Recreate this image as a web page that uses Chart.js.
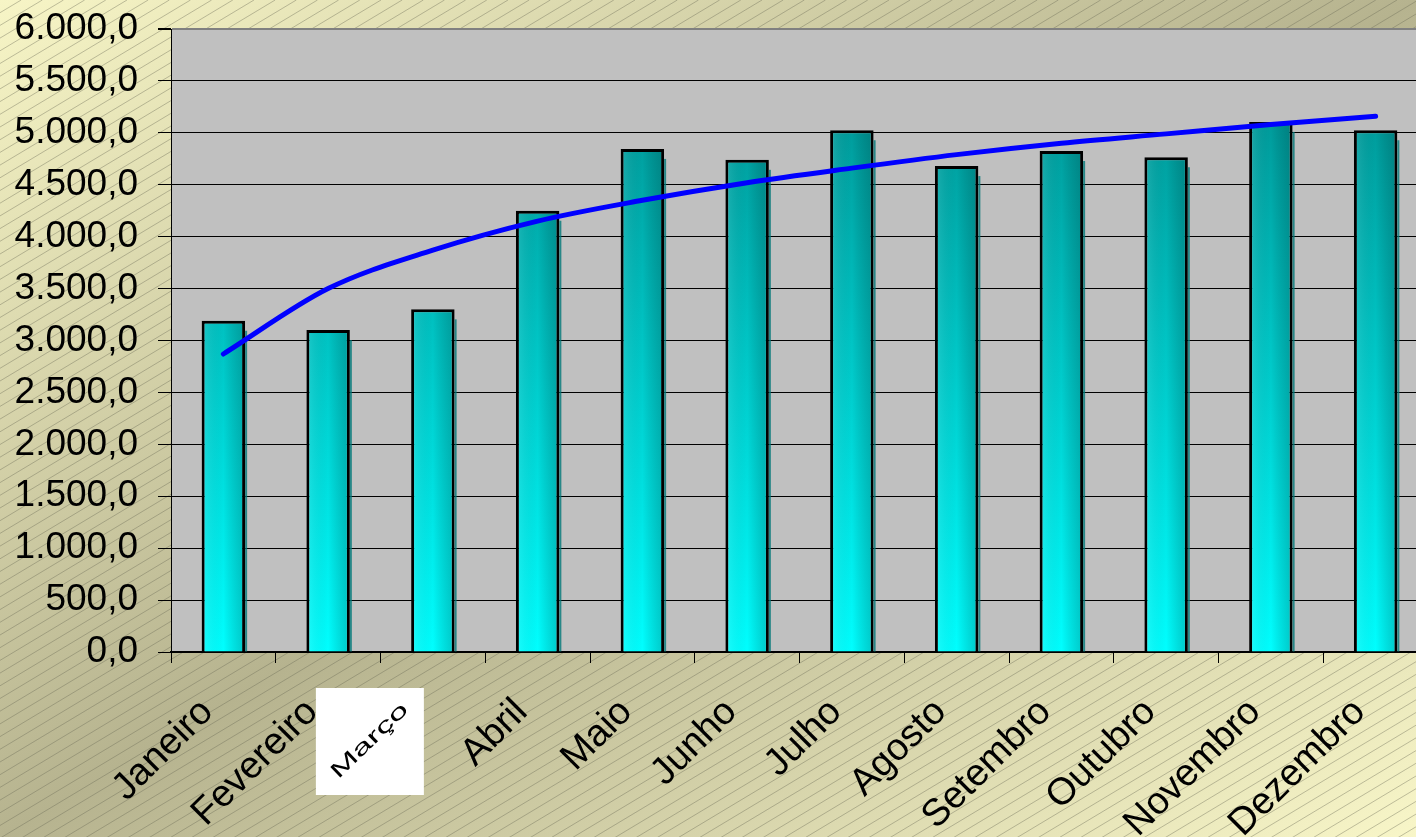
<!DOCTYPE html>
<html>
<head>
<meta charset="utf-8">
<script src="https://cdn.jsdelivr.net/npm/chart.js@4"></script>
<style>
html, body { margin: 0; padding: 0; overflow: hidden; background: #d8d6b0; }
</style>
</head>
<body>
<canvas id="grafico" width="1430" height="837"></canvas>
<script>
// dados
const meses = ['Janeiro', 'Fevereiro', 'Março', 'Abril', 'Maio', 'Junho', 'Julho', 'Agosto', 'Setembro', 'Outubro', 'Novembro', 'Dezembro'];
const valores = [3190, 3100, 3300, 4250, 4845, 4740, 5025, 4680, 4825, 4765, 5105, 5025];
const tendencia = [2870, 3500, 3870, 4150, 4350, 4520, 4660, 4790, 4900, 4990, 5080, 5160];
const yMin = 0, yMax = 6000, yPasso = 500;

const fonte = "'Liberation Sans', Arial, sans-serif";

function formata(v) {
  // 6000 -> "6.000,0"
  const s = Math.round(v).toString().replace(/\B(?=(\d{3})+(?!\d))/g, '.');
  return s + ',0';
}

// fundo amarelado com listras diagonais e área de plotagem cinza
const fundo = {
  id: 'fundo',
  beforeDraw(chart) {
    const { ctx, width, height, chartArea: a } = chart;
    ctx.save();
    ctx.save();
    ctx.scale(1416, height);
    const g = ctx.createLinearGradient(0, 0, 1, 1);
    g.addColorStop(0, '#f7f5c6');
    g.addColorStop(0.5, '#b6b38f');
    g.addColorStop(1, '#f8f6c8');
    ctx.fillStyle = g;
    ctx.fillRect(0, 0, width / 1416, 1);
    ctx.restore();

    ctx.strokeStyle = 'rgba(105,105,85,0.4)';
    ctx.lineWidth = 1;
    ctx.beginPath();
    const s = 0.6;
    for (let c = 0; c < height + s * width + 20; c += 12.7) {
      ctx.moveTo(0, c);
      ctx.lineTo(c / s, 0);
    }
    ctx.stroke();

    ctx.fillStyle = '#c0c0c0';
    ctx.fillRect(a.left, a.top, a.right - a.left, a.bottom - a.top);
    ctx.restore();
  }
};

// sombreado das barras
const sombra = {
  id: 'sombra',
  afterDatasetDraw(chart, args) {
    if (args.index !== 0) return;
    const ctx = chart.ctx;
    ctx.save();
    args.meta.data.forEach(bar => {
      const { x, y, base, width } = bar.getProps(['x', 'y', 'base', 'width'], true);
      const l = x - width / 2, r = x + width / 2;
      const g = ctx.createLinearGradient(l, 0, r, 0);
      g.addColorStop(0, 'rgba(255,255,255,0.12)');
      g.addColorStop(0.5, 'rgba(0,0,0,0)');
      g.addColorStop(1, 'rgba(0,40,40,0.25)');
      ctx.fillStyle = g;
      ctx.fillRect(l + 3, y + 3, width - 6, base - y - 3);
      ctx.fillStyle = 'rgba(0,120,120,0.8)';
      ctx.fillRect(r, y + 10, 2, base - y - 10);
    });
    ctx.restore();
  }
};

// rótulo "Março" numa caixa branca
const rotuloMarco = {
  id: 'rotuloMarco',
  afterDraw(chart) {
    const ctx = chart.ctx;
    const xs = chart.scales.x;
    const cx = xs.getPixelForTick(2) - 63;
    const cy = xs.top + 89;
    ctx.save();
    ctx.fillStyle = '#ffffff';
    ctx.fillRect(cx - 54, cy - 53, 108, 107);
    ctx.translate(cx, cy);
    ctx.rotate(-44 * Math.PI / 180);
    ctx.scale(1.7, 1);
    ctx.fillStyle = '#000';
    ctx.font = '21px ' + fonte;
    ctx.textAlign = 'center';
    ctx.textBaseline = 'middle';
    ctx.fillText(meses[2], 0, 0);
    ctx.restore();
  }
};

new Chart(document.getElementById('grafico'), {
  type: 'bar',
  data: {
    labels: meses,
    datasets: [
      {
        type: 'bar',
        data: valores,
        order: 2,
        backgroundColor(c) {
          const a = c.chart.chartArea;
          if (!a) return '#00c0c0';
          const g = c.chart.ctx.createLinearGradient(0, a.top, 0, a.bottom);
          g.addColorStop(0, '#008a8a');
          g.addColorStop(1, '#00ffff');
          return g;
        },
        borderColor: '#000',
        borderWidth: 3,
        categoryPercentage: 1,
        barPercentage: 0.415
      },
      {
        type: 'line',
        data: tendencia,
        order: 1,
        borderColor: '#0000ff',
        borderWidth: 5,
        borderCapStyle: 'round',
        pointRadius: 0,
        tension: 0.4,
        cubicInterpolationMode: 'monotone'
      }
    ]
  },
  options: {
    responsive: false,
    animation: false,
    devicePixelRatio: 1,
    layout: { padding: { top: 29, right: 2, left: 0, bottom: 0 } },
    plugins: {
      legend: { display: false },
      tooltip: { enabled: false }
    },
    scales: {
      x: {
        offset: true,
        grid: {
          display: true,
          offset: true,
          drawOnChartArea: false,
          tickLength: 11,
          tickColor: '#000',
          tickWidth: 1
        },
        border: { display: true, color: '#000', width: 2 },
        ticks: {
          color: '#000',
          font: { family: fonte, size: 38 },
          minRotation: 45,
          maxRotation: 45,
          padding: 27,
          labelOffset: -16,
          autoSkip: false,
          callback(v, i) { return i === 2 ? '' : meses[i]; }
        },
        afterFit(s) { s.height = 185; s.paddingLeft = 0; s.paddingRight = 0; }
      },
      y: {
        min: yMin,
        max: yMax,
        grid: {
          color: c => (c.tick && c.tick.value === yMax ? '#808080' : '#000'),
          lineWidth: c => (c.tick && c.tick.value === yMax ? 2 : 1),
          tickLength: 13,
          tickColor: '#000'
        },
        border: { display: true, color: '#000', width: 1 },
        ticks: {
          stepSize: yPasso,
          color: '#000',
          font: { family: fonte, size: 37 },
          padding: 20,
          callback: v => formata(v)
        },
        afterFit(s) { s.width = 171; s.paddingTop = 0; s.paddingBottom = 0; }
      }
    }
  },
  plugins: [fundo, sombra, rotuloMarco]
});
</script>
</body>
</html>
